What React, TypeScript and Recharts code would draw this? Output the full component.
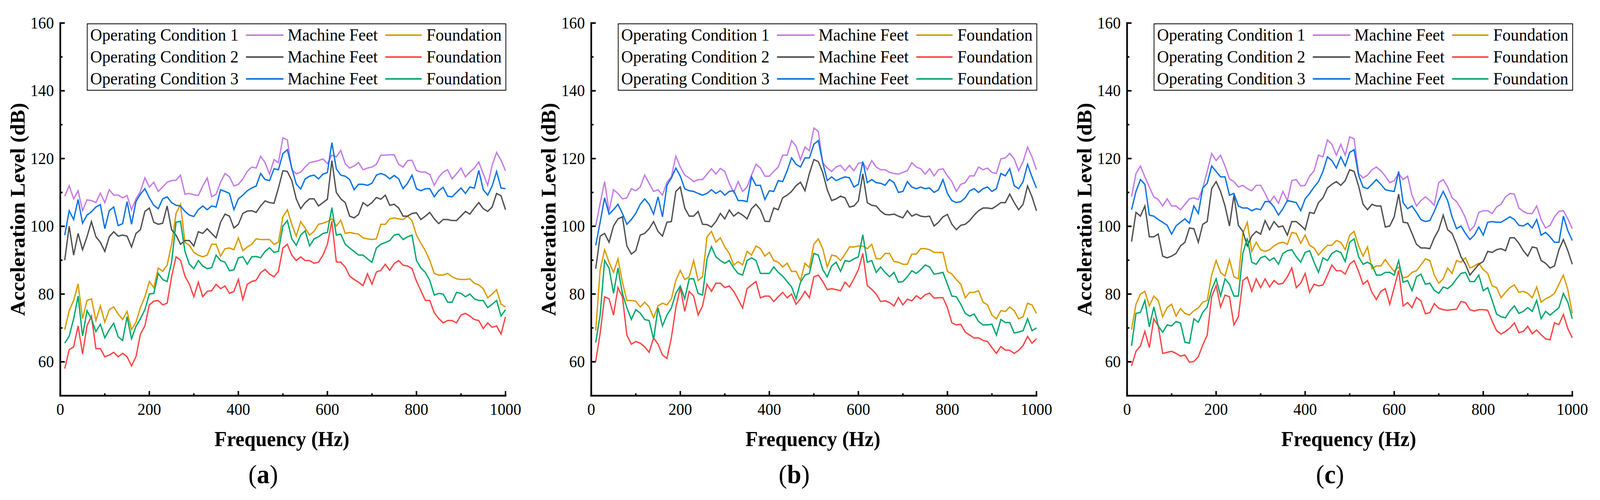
import React from 'react';
import { LineChart, Line, XAxis, YAxis, Legend } from 'recharts';

const FONT = '"Liberation Serif", "Times New Roman", Times, serif';
const PAGE_W = 4273;
const PAGE_H = 1280;

// Frequency grid (Hz)
const FREQ = [
  10, 20, 30, 40, 50, 60, 70, 80, 90, 100,
  110, 120, 130, 140, 150, 160, 170, 180, 190, 200,
  210, 220, 230, 240, 250, 260, 270, 280, 290, 300,
  310, 320, 330, 340, 350, 360, 370, 380, 390, 400,
  410, 420, 430, 440, 450, 460, 470, 480, 490, 500,
  510, 520, 530, 540, 550, 560, 570, 580, 590, 600,
  610, 620, 630, 640, 650, 660, 670, 680, 690, 700,
  710, 720, 730, 740, 750, 760, 770, 780, 790, 800,
  810, 820, 830, 840, 850, 860, 870, 880, 890, 900,
  910, 920, 930, 940, 950, 960, 970, 980, 990, 1000,
];

const X_TICKS = [0, 100, 200, 300, 400, 500, 600, 700, 800, 900, 1000];
const Y_TICKS = [60, 70, 80, 90, 100, 110, 120, 130, 140, 150, 160];

// ---------- Panel (a) ----------
const A_MF1 = [
  108.9, 112, 108.1, 110.5, 104.6, 107.8, 107.6, 107, 109.8, 107,
  110.8, 109.2, 109.2, 108.4, 109.1, 104.9, 108.1, 110.3, 114.3, 111.6,
  113, 110.3, 111.6, 113, 113.5, 113.6, 115.1, 109.5, 109.7, 109.3,
  109.1, 111.9, 114.3, 108.7, 109.5, 113, 115.6, 114.6, 111.9, 112.4,
  114, 116.2, 117.5, 117.2, 120.7, 118.8, 115.4, 119.7, 118.8, 126.1,
  125.5, 116.7, 115.5, 116, 117.5, 118.8, 119.1, 119.4, 119.9, 118.5,
  121, 120.5, 122.4, 118.5, 117.2, 117.8, 118.8, 116.7, 117.2, 117.5,
  118.3, 121, 121, 121.1, 121.1, 118.3, 117.5, 119.4, 119.5, 116.5,
  116, 116, 115.3, 112.1, 114.5, 116, 116.7, 114, 115.5, 117.2,
  114.6, 116, 117.2, 119, 115.5, 112.1, 118, 121.8, 119.5, 116.4,
];
const A_FD1 = [
  69.5, 75.1, 78.1, 83, 72.7, 78.1, 78.6, 72.2, 76.5, 71.7,
  75.4, 76.2, 74.1, 72.5, 74.9, 69.5, 71.7, 76, 79.2, 83.7,
  81.9, 87.7, 86.7, 88.6, 94.7, 103.8, 106.5, 95.3, 94.4, 92.3,
  91.5, 91, 91.5, 94.7, 94.7, 91.2, 93.4, 93.6, 93.1, 96.6,
  92.8, 93.9, 94.7, 96.3, 96.1, 96.1, 96.1, 94.7, 95.3, 102.8,
  104.9, 100.6, 97.1, 101.4, 99.5, 97.4, 98.5, 100.6, 100.9, 101.4,
  102.2, 100.1, 101.8, 97.9, 98.2, 97.9, 97.7, 96.6, 96.3, 96.1,
  96.3, 100.6, 100.6, 102.2, 102.5, 102.2, 102, 103, 101.7, 97.4,
  95, 92.8, 89.9, 86.1, 85.6, 85.6, 86.1, 85.1, 84.5, 84.3,
  84.3, 84.5, 83.2, 82.7, 81.6, 78.9, 80, 81.3, 77, 76.2,
];
const A_MF2 = [
  90, 100, 91.5, 97.9, 93.1, 96.9, 101.4, 96.9, 95.3, 92.6,
  96.9, 98.4, 97.1, 97.4, 97.1, 93.9, 97.9, 99, 104.4, 105.4,
  101.2, 100.6, 100.9, 106, 99, 97.4, 94.7, 95.8, 95.8, 94.2,
  98.4, 97.9, 99.3, 97.9, 96.6, 101.2, 103.6, 103, 99.5, 100.6,
  103.8, 104.5, 104.6, 104.1, 106, 107.5, 107, 106.8, 111.3, 116.4,
  116.2, 113.5, 108.1, 105.2, 107, 108.1, 108.1, 106, 107, 108,
  119.4, 110, 108.1, 107, 103, 102.5, 103.5, 107, 106, 107,
  108.5, 108, 109.2, 106.2, 106.5, 105.4, 103, 103, 103.8, 104,
  102, 103, 104.1, 102.2, 100.8, 102, 102, 101.7, 101.7, 103,
  104.4, 103.6, 105.4, 107, 105.2, 104.4, 105.7, 109.7, 109, 104.9,
];
const A_FD2 = [
  58, 63.6, 64.4, 70.6, 62.3, 70.6, 73.5, 63.9, 63.9, 61.5,
  62, 62.8, 61.5, 62.5, 61.5, 58.8, 61.5, 68.2, 70.6, 76.8,
  77.9, 78.1, 76.8, 77.3, 85.1, 91, 90, 85.3, 82.9, 79.2,
  83.5, 79.2, 80.8, 81, 82.9, 81.6, 82.4, 80.2, 80.8, 84.3,
  78.4, 82.9, 83.7, 84.1, 86.3, 87.3, 85.9, 85.1, 86.7, 93.6,
  94.7, 91.5, 89.9, 91, 89.9, 89.9, 89.1, 89.4, 91.5, 94.7,
  101.5, 89.5, 89.4, 88, 85.3, 84.3, 83.5, 82.5, 86, 82.9,
  86.5, 87, 88.8, 87, 89, 89.9, 88.5, 88.3, 87.5, 83.8,
  81, 78.1, 78.1, 74.5, 72.8, 71.5, 72.2, 72.2, 71.5, 73.8,
  74.3, 73.5, 72.5, 72.2, 69.8, 71.5, 70.2, 70.6, 68.2, 73.3,
];
const A_MF3 = [
  97.4, 104.6, 102, 107.9, 100.9, 103.3, 104.3, 105.7, 106.4, 99.3,
  104.6, 105.7, 100.2, 100.8, 107.3, 100.6, 107.3, 109.5, 111.1, 108.4,
  106.2, 105.2, 108.1, 108.7, 107, 106.2, 106, 104.4, 103.3, 102.9,
  104.9, 106, 104.9, 106, 105.7, 110.8, 110.3, 109.7, 104.9, 108.1,
  109.2, 110.5, 111.3, 111.9, 115.6, 113.8, 113.5, 117, 116.7, 121.5,
  122.6, 117.2, 112.5, 111, 114, 114.8, 115.1, 114, 115.4, 115.9,
  124.7, 117, 115.1, 114.8, 113.8, 110.8, 112.4, 112.4, 112.1, 112.7,
  115.1, 115.6, 115.1, 114, 115, 114, 111.1, 112.7, 115.1, 111.1,
  110.5, 111.1, 111.1, 108.7, 110.5, 111.5, 108.9, 108.7, 110, 111.3,
  109.7, 111.6, 111.3, 116.5, 110.8, 109.2, 111.9, 116.2, 111.3, 111.1,
];
const A_FD3 = [
  65.5, 67.6, 72.7, 79.4, 67.6, 75.1, 72.7, 68.9, 71.1, 67.1,
  69.5, 71.4, 67.4, 66.3, 73.3, 66.8, 70.5, 72.7, 75.4, 80,
  80.2, 86.1, 84.3, 83.7, 89.4, 101.2, 101.5, 92.6, 88.8, 87.5,
  89.9, 88.3, 87.5, 87.8, 91.5, 89.9, 89.4, 86.9, 87.2, 90.7,
  91, 88.8, 91, 91.1, 90.7, 92.6, 93.7, 92.3, 92.6, 100.1,
  101.7, 96.3, 94.4, 97.4, 98.7, 94.2, 96.3, 96.9, 97.9, 98.2,
  105.5, 97.4, 97.7, 94.7, 93.6, 92.6, 91.5, 91.5, 90.4, 89.4,
  93.6, 94.7, 95.2, 95.8, 97.4, 97.7, 96.1, 96.9, 97.4, 89.9,
  87.7, 86.4, 84, 79.7, 80.2, 80, 77.6, 77.6, 80.5, 80.2,
  79.2, 80, 78.6, 78.1, 78.1, 76, 77, 78.1, 73.5, 75.4,
];

// ---------- Panel (b) ----------
const B_MF1 = [
  100.1, 106.8, 113.2, 104.4, 110.8, 109.7, 108.1, 108.4, 111.1, 110.5,
  111.6, 115.1, 112.7, 110.3, 110.8, 109.2, 113, 114.6, 120.7, 117.5,
  115.1, 114.3, 113.2, 113.8, 113.8, 115.4, 117, 115.4, 117.1, 116.2,
  112.7, 110, 113.2, 110.3, 111.6, 115.1, 118.3, 117.2, 114.8, 114.8,
  116.2, 117.5, 121, 121, 125.3, 123.7, 119.7, 123.4, 122.3, 129,
  128, 118.8, 117.2, 116.2, 117.5, 118, 116.4, 118, 116.4, 118.6,
  118.8, 116.7, 119.4, 117.5, 116.7, 116.7, 115.9, 115.6, 115.4, 115.9,
  116.4, 118.8, 117.5, 117, 115.4, 117, 114.9, 116.7, 117, 114.9,
  113.2, 110.3, 112.4, 112.9, 114.9, 114.9, 117.5, 116.7, 117.2, 115.9,
  115.6, 119.9, 120.2, 121.5, 119.9, 116.4, 119.1, 123.4, 120.5, 116.7,
];
const B_FD1 = [
  69.2, 87.2, 93.1, 89.4, 86.4, 90.4, 83.5, 78.1, 78.1, 77.9,
  76.2, 77.6, 76.2, 73, 76.5, 77.3, 76.8, 78.6, 84, 87,
  84.3, 85.1, 89.9, 84, 85.1, 96.9, 98.5, 95.3, 96.6, 93.9,
  92, 88.6, 89.6, 88.6, 92.6, 91.5, 94.2, 93.4, 91.2, 92.3,
  89.9, 89.4, 88, 89.1, 86.7, 86.7, 84, 89.1, 87.8, 94.7,
  96.3, 93.4, 88, 91.5, 91.2, 89.9, 91.8, 93.9, 93.9, 94.2,
  94.2, 93.4, 94.7, 90.4, 90.4, 92, 92, 89.6, 89.4, 88.8,
  88.8, 91.8, 91.8, 93.4, 93.4, 93.1, 92.3, 92.3, 92.3, 86.7,
  85.9, 84.3, 82.9, 78.9, 80.5, 80.5, 81, 77.6, 76.8, 73.8,
  72.7, 75.1, 74.9, 76.2, 75.1, 72.7, 73.3, 77.3, 76.8, 74.3,
];
const B_MF2 = [
  87.5, 97.1, 97.9, 95.3, 100.1, 102.2, 102.8, 94.2, 91.8, 92.8,
  97.4, 97.9, 99.3, 101.4, 98.5, 97.1, 101.2, 101.4, 110.3, 111.6,
  105.4, 103, 103, 104.4, 100.6, 100.5, 99.8, 101.4, 103.8, 102.2,
  104.8, 103, 104.1, 103.3, 102.2, 105.2, 106.5, 104.9, 101.5, 101.4,
  105.4, 104.9, 108.4, 109.2, 110.3, 112, 113, 110.5, 115.6, 119.7,
  119.1, 115.9, 110.8, 107.6, 108.1, 108.9, 108.4, 105.7, 106, 107.5,
  115.5, 107, 106.2, 106, 104.5, 103.5, 103.4, 103.6, 103, 102.5,
  104.6, 103, 103.6, 103, 102.8, 103, 100.1, 101.2, 102.8, 103.5,
  100.6, 99, 100.3, 100.6, 101.7, 103.3, 104.6, 105.4, 105.4, 105.2,
  106, 107, 107, 109.5, 107, 104.9, 106.5, 111.9, 108.7, 104.6,
];
const B_FD2 = [
  60.1, 68.4, 79.2, 78.6, 73.8, 81.9, 79.2, 67.9, 65.2, 66,
  65.5, 64.4, 62.8, 67.1, 65.2, 62, 61, 67.1, 76, 81.9,
  74.9, 80.8, 79.4, 73.8, 76.5, 82.9, 80.8, 83.2, 83.2, 81.9,
  82.4, 80.8, 78.4, 75.9, 81.6, 82.7, 83.7, 78.9, 79.4, 79.4,
  77.8, 79.2, 80.5, 78.9, 80, 77, 78.6, 80.8, 78.9, 85.1,
  85.6, 83.7, 81.3, 81.6, 81.3, 81, 83.5, 82.1, 84.5, 87.2,
  92, 82.5, 81.4, 80, 77.8, 78, 77.5, 76.5, 79, 76.8,
  78.5, 78, 79.5, 78.6, 79.8, 80.3, 78.8, 78.9, 78.9, 76,
  71.5, 70.9, 71.1, 68.8, 67.9, 67, 67.1, 66.3, 66, 64.2,
  62.5, 64.5, 63.5, 63.4, 62.5, 63.4, 64.8, 67.5, 65.5, 66.8,
];
const B_MF3 = [
  94.4, 101.2, 108.4, 103.6, 104.9, 106.5, 103.8, 100.6, 102, 103.8,
  106.5, 108.1, 106.5, 103.6, 108.7, 102.8, 112.1, 114.3, 117.2, 114.8,
  111.1, 110.5, 110.3, 109.7, 109.2, 109.7, 110.8, 109.7, 110.5, 109.2,
  110.3, 110.5, 107.6, 107.6, 107.3, 114.6, 112.1, 112.1, 107.9, 110.5,
  110.3, 113.5, 113.2, 116.4, 120.2, 118.3, 117.5, 120.2, 120.2, 124.2,
  125.3, 118.8, 113.5, 114.6, 113.5, 114.1, 114.6, 114.3, 111.6, 112.4,
  119.1, 112.9, 113.8, 112.9, 112.7, 112.1, 113.8, 112.9, 110, 110.3,
  113.2, 111.6, 111.1, 111.6, 111.1, 111.3, 110, 110.8, 113.8, 109.7,
  107.6, 107, 107.3, 108.4, 110.5, 111.1, 110, 111.1, 111.6, 110.3,
  111.1, 115.6, 114.9, 117, 112, 111.1, 113.2, 118.3, 114.6, 111.3,
];
const B_FD3 = [
  65.7, 73.8, 89.9, 87.7, 80.2, 87.7, 80.2, 76, 72.5, 75.4,
  74.4, 72.5, 72.2, 66.6, 75.9, 70.6, 73.8, 75.9, 80.2, 82.4,
  78.6, 84.5, 84.5, 80.2, 79.7, 90.4, 94, 91, 89.9, 89.1,
  89.9, 87.7, 86.1, 85.6, 89.9, 90.7, 89.9, 86.1, 86.1, 86.1,
  88, 86.4, 85.3, 83.7, 82.1, 78.6, 83.5, 85.6, 86.1, 92,
  91.5, 87.2, 85.1, 88.3, 89.4, 86.7, 89.9, 89.6, 90.4, 91,
  97.5, 89.4, 89.9, 86.4, 88, 86.4, 85.1, 86.4, 83.5, 83.7,
  85.1, 86.9, 86.1, 87.2, 88.6, 88, 85.9, 86.1, 86.4, 82.9,
  79.4, 79.2, 77, 74.3, 73.5, 74.1, 71.9, 70.9, 70.9, 71.1,
  67.9, 72.5, 71.6, 71.6, 68.5, 68.8, 69.2, 72.7, 69.2, 70,
];

// ---------- Panel (c) ----------
const C_MF1 = [
  108.7, 115.6, 117.8, 114.6, 111.6, 108.7, 107.9, 106, 108.1, 106,
  106, 104.9, 106.5, 108.1, 108.4, 107.9, 111.3, 116.2, 121.5, 119.4,
  121, 117.8, 114, 113.2, 111.6, 112.1, 111.1, 110.5, 112.1, 112.1,
  109.7, 107, 108.9, 106.8, 110.3, 107.6, 113.5, 113.8, 111.9, 112.1,
  114.8, 116.4, 121, 120.5, 125.5, 124.2, 121, 124.2, 121, 126.4,
  125.8, 115.6, 114.3, 115.1, 116.7, 117.5, 116.4, 114.8, 112.9, 113.5,
  115.6, 113.8, 114.8, 109.2, 106, 107.6, 108.7, 107.6, 106.2, 112.9,
  113.8, 111.6, 108.4, 107.3, 105.2, 102.5, 98.7, 100.1, 104.1, 104.6,
  104.6, 103.8, 105.7, 106.5, 108.7, 109.7, 109.5, 105.4, 104.4, 103.8,
  103.8, 106, 102, 99.5, 100.3, 102.8, 104.4, 104.6, 102.2, 99.3,
];
const C_FD1 = [
  69.5, 77, 80, 80.8, 76.5, 79.4, 78.1, 73.3, 76, 77,
  73.5, 75.7, 74.3, 73.8, 75.1, 75.9, 77.6, 78.1, 85.6, 89.9,
  86.4, 85.3, 90.2, 85.1, 84.5, 97.9, 101.2, 92.6, 95.3, 93.1,
  92.6, 93.1, 94.2, 95, 95.3, 94.7, 98.2, 97.9, 95, 97.4,
  94.4, 93.6, 91.5, 93.1, 94.4, 94.4, 95.8, 95.3, 93.1, 97.4,
  98.5, 94.2, 91.2, 93.9, 87.5, 88.3, 88.3, 90.2, 88.3, 86.7,
  88, 84.8, 85.1, 86.4, 86.9, 88.6, 90.4, 89.9, 85.6, 83.2,
  84.5, 87.7, 86.1, 89.9, 89.4, 90.7, 87.7, 88.3, 89.1, 87.2,
  86.1, 82.4, 81.9, 78.9, 80.5, 81.9, 82.7, 80.5, 80.8, 80.2,
  78.9, 82.1, 77.6, 78.6, 79.2, 80.2, 82.9, 85.6, 81.3, 74.3,
];
const C_MF2 = [
  95.5, 104.1, 103, 106, 96.9, 96.9, 97.7, 91.2, 90.7, 91.2,
  92, 94.2, 95.3, 99.5, 99.3, 95.3, 100.6, 101.4, 111.1, 113.2,
  110.3, 106, 100.1, 109.2, 100.3, 98.5, 94.2, 97.1, 98.5, 97.7,
  101.7, 99, 101.4, 99.8, 100.1, 97.4, 101.4, 101.4, 100.3, 99,
  104.1, 103.8, 107, 108.4, 111.3, 112.4, 113.2, 112.1, 113.5, 116.7,
  116.2, 111.9, 106.5, 104.9, 106.5, 106, 106, 99.8, 100.1, 102.8,
  109.5, 101.2, 101, 97.9, 94.7, 93.6, 93.6, 93.4, 96.6, 99,
  103.3, 99, 97.9, 94.7, 91, 88.8, 85.6, 87.2, 88.8, 89.6,
  92.6, 92.3, 93.1, 93.4, 92.8, 96.6, 96.6, 95, 92.8, 91.2,
  93.9, 93.6, 89.9, 89.1, 87.7, 88.3, 93.1, 96.1, 92.8, 88.8,
];
const C_FD2 = [
  58.8, 63.1, 64.7, 69, 64.2, 72.7, 70.6, 62.5, 62.8, 63.1,
  62.5, 61.7, 62, 59.9, 60.1, 61.5, 65, 67.9, 79.2, 82.5,
  76.2, 79.7, 79.2, 70.9, 73.3, 84, 85, 80.8, 84.5, 81.9,
  84.5, 82.1, 84, 82.9, 83.2, 85.1, 87.7, 81.9, 83.2, 86.1,
  80.5, 82.9, 82.4, 82.7, 85.6, 88.6, 86.9, 86.9, 85.9, 88.8,
  89.9, 86.7, 82.9, 84, 80.5, 78.4, 80.8, 81.6, 77, 81.9,
  87, 76.5, 77.5, 76, 79, 78, 74.2, 74.5, 77.2, 75.8,
  75.4, 75.2, 75.4, 75.5, 77.8, 77.5, 75.4, 75, 75.4, 75.4,
  75.2, 72, 69.2, 68.2, 69, 70, 71.5, 68.6, 69, 70.5,
  68.3, 69.4, 68, 66.8, 66.5, 71.5, 71, 74, 69.8, 67.1,
];
const C_MF3 = [
  104.9, 110.3, 113.8, 112.4, 103.3, 103, 102, 101.2, 100.3, 97.7,
  100.1, 101.2, 102.2, 100.9, 106, 103.8, 111.3, 112.7, 117.8, 116.2,
  114.6, 114.6, 109.2, 109.7, 106, 105.4, 105.4, 104.6, 105.2, 104.9,
  107.3, 107.3, 105.7, 103.3, 105.2, 107.6, 107.3, 107, 104.6, 108.1,
  109.7, 111.6, 113.2, 116.2, 120.5, 119.4, 117.2, 120.5, 117.8, 121.8,
  122.6, 115.1, 111.6, 111.1, 112.4, 113.8, 112.4, 110.8, 110.5, 110.3,
  116.2, 107, 105.2, 106, 104.1, 102, 101.4, 101.7, 104.4, 107.6,
  110.3, 107.6, 102.8, 99.3, 100.1, 97.9, 96.1, 97.4, 99.8, 97.4,
  101.2, 101.4, 101.2, 101.2, 102, 102.8, 102, 100.3, 100.1, 100.9,
  99.5, 102, 97.4, 98.2, 96.9, 95.3, 95.3, 103, 98.7, 95.8,
];
const C_FD3 = [
  64.7, 74.3, 74.6, 78.1, 70.3, 76.2, 70.6, 68.7, 70.9, 70.6,
  71.9, 71.4, 65.8, 65.5, 72.7, 71.7, 74.6, 76.2, 81.3, 84.5,
  79.4, 84.5, 82.9, 79.4, 79.4, 92, 96.5, 89.4, 88.8, 90.7,
  91.2, 89.9, 90.7, 88.8, 92, 92.8, 93.1, 91, 89.4, 92.3,
  92.8, 89.4, 86.4, 90.7, 89.9, 92, 92.8, 92.3, 89.6, 95.3,
  96.3, 91, 88.8, 89.4, 88.6, 85.6, 85.6, 86.4, 86.4, 85.6,
  89.9, 83.5, 84, 81, 85.1, 85.9, 82.9, 83.2, 81.1, 80.2,
  82.1, 81.6, 82.7, 84.5, 86.1, 86.4, 83.7, 83.7, 85.6, 81,
  81.9, 78.1, 74.1, 73.3, 73, 75.1, 76.5, 74.3, 74.9, 76,
  74.9, 78.1, 72.7, 74.9, 73.8, 74.9, 76, 80.2, 77.6, 72.7,
];

const SERIES = [
  { key: 'mf1', name: 'Machine Feet', color: '#C57BE7' },
  { key: 'fd1', name: 'Foundation', color: '#DA9A00' },
  { key: 'mf2', name: 'Machine Feet', color: '#505050' },
  { key: 'fd2', name: 'Foundation', color: '#FF4444' },
  { key: 'mf3', name: 'Machine Feet', color: '#0A72E4' },
  { key: 'fd3', name: 'Foundation', color: '#00A86C' },
];

const CONDITIONS = ['Operating Condition 1', 'Operating Condition 2', 'Operating Condition 3'];

type PanelDef = { left: number; tag: string; values: Record<string, number[]> };

const PANELS: PanelDef[] = [
  { left: 0, tag: 'a', values: { mf1: A_MF1, fd1: A_FD1, mf2: A_MF2, fd2: A_FD2, mf3: A_MF3, fd3: A_FD3 } },
  { left: 1418, tag: 'b', values: { mf1: B_MF1, fd1: B_FD1, mf2: B_MF2, fd2: B_FD2, mf3: B_MF3, fd3: B_FD3 } },
  { left: 2849, tag: 'c', values: { mf1: C_MF1, fd1: C_FD1, mf2: C_MF2, fd2: C_FD2, mf3: C_MF3, fd3: C_FD3 } },
];

const YTick = (props: any) => {
  const { x, y, payload } = props;
  const v = payload.value;
  const major = v % 20 === 0;
  return (
    <g>
      <line x1={x} x2={x + (major ? 12 : 6)} y1={y} y2={y} stroke="#000" strokeWidth={4} />
      {major && (
        <text x={x - 17} y={y + 14} textAnchor="end" fontFamily={FONT} fontSize={42} fill="#000">
          {v}
        </text>
      )}
    </g>
  );
};

const XTick = (props: any) => {
  const { x, y, payload } = props;
  const v = payload.value;
  const major = v % 200 === 0;
  return (
    <g>
      <line x1={x} x2={x} y1={y} y2={y - (major ? 12 : 6)} stroke="#000" strokeWidth={4} />
      {major && (
        <text x={x} y={y + 49} textAnchor="middle" fontFamily={FONT} fontSize={42} fill="#000">
          {v}
        </text>
      )}
    </g>
  );
};

const LegendBox = () => {
  const rowH = 56;
  return (
    <div
      style={{
        position: 'relative',
        width: 1120,
        height: 172,
        boxSizing: 'border-box',
        border: '2px solid #000',
        background: '#fff',
        fontFamily: FONT,
        fontSize: 44,
        color: '#000',
      }}
    >
      {CONDITIONS.map((c, i) => {
        const mf = SERIES[i * 2];
        const fd = SERIES[i * 2 + 1];
        const top = i * rowH;
        const textStyle: React.CSSProperties = {
          position: 'absolute',
          top,
          height: rowH,
          lineHeight: rowH + 'px',
          whiteSpace: 'nowrap',
        };
        const lineStyle = (left: number, width: number, color: string): React.CSSProperties => ({
          position: 'absolute',
          left,
          width,
          top: top + rowH / 2 - 2,
          height: 4,
          background: color,
        });
        return (
          <React.Fragment key={c}>
            <span style={{ ...textStyle, left: 7 }}>{c}</span>
            <div style={lineStyle(423, 100, mf.color)} />
            <span style={{ ...textStyle, left: 534 }}>{mf.name}</span>
            <div style={lineStyle(795, 97, fd.color)} />
            <span style={{ ...textStyle, left: 905 }}>{fd.name}</span>
          </React.Fragment>
        );
      })}
    </div>
  );
};

const Panel = ({ def }: { def: PanelDef }) => {
  const data = FREQ.map((f, i) => {
    const row: Record<string, number> = { f };
    SERIES.forEach((s) => {
      row[s.key] = def.values[s.key][i];
    });
    return row;
  });

  const yLabel = () => (
    <text
      x={47}
      y={536}
      transform="rotate(-90 47 536)"
      textAnchor="middle"
      dominantBaseline="central"
      fontFamily={FONT}
      fontWeight="bold"
      fontSize={54}
      fill="#000"
    >
      Acceleration Level (dB)
    </text>
  );

  const xLabel = () => (
    <g>
      <text x={753} y={1142} textAnchor="middle" fontFamily={FONT} fontWeight="bold" fontSize={54} fill="#000">
        Frequency (Hz)
      </text>
      <text x={703} y={1237} textAnchor="middle" fontFamily={FONT} fontSize={68} fill="#000">
        <tspan>(</tspan>
        <tspan fontWeight="bold">{def.tag}</tspan>
        <tspan>)</tspan>
      </text>
    </g>
  );

  return (
    <div style={{ position: 'absolute', left: def.left, top: 0, width: 1420, height: 1280 }}>
      <LineChart width={1420} height={1280} data={data} margin={{ top: 59, right: 70, bottom: 207, left: 0 }}>
        <XAxis
          dataKey="f"
          type="number"
          domain={[0, 1000]}
          ticks={X_TICKS}
          interval={0}
          height={60}
          tickSize={0}
          tickMargin={0}
          tickLine={false}
          axisLine={{ stroke: '#000', strokeWidth: 4.5, strokeLinecap: 'square' }}
          tick={XTick}
          label={{ content: xLabel }}
        />
        <YAxis
          type="number"
          domain={[50, 160]}
          ticks={Y_TICKS}
          interval={0}
          width={161}
          tickSize={0}
          tickMargin={0}
          tickLine={false}
          axisLine={{ stroke: '#000', strokeWidth: 4.5, strokeLinecap: 'square' }}
          tick={YTick}
          label={{ content: yLabel }}
        />
        <Legend
          layout="vertical"
          align="center"
          verticalAlign="middle"
          content={LegendBox}
          wrapperStyle={{ position: 'absolute', left: 232, top: 60, width: 1120, height: 172 }}
        />
        {SERIES.map((s) => (
          <Line
            key={s.key}
            dataKey={s.key}
            name={s.name}
            type="linear"
            stroke={s.color}
            strokeWidth={3.5}
            dot={false}
            activeDot={false}
            isAnimationActive={false}
          />
        ))}
      </LineChart>
    </div>
  );
};

export default function App() {
  // Fit the full figure width into the visible viewport (the figure is PAGE_W px wide).
  let vw = PAGE_W;
  if (typeof window !== 'undefined') {
    const cw = document.documentElement ? document.documentElement.clientWidth : 0;
    vw = Math.min(window.innerWidth || PAGE_W, cw || PAGE_W);
  }
  const sx = Math.min(1, vw / PAGE_W);
  return (
    <div
      style={{
        position: 'absolute',
        left: 0,
        top: 0,
        width: PAGE_W,
        height: PAGE_H,
        background: '#fff',
        overflow: 'hidden',
        transform: `scale(${sx}, 1)`,
        transformOrigin: '0 0',
      }}
    >
      {PANELS.map((p) => (
        <Panel key={p.tag} def={p} />
      ))}
    </div>
  );
}
